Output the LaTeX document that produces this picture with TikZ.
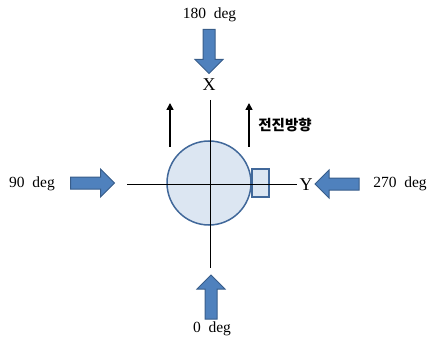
\documentclass[tikz,border=0pt]{standalone}
\usepackage{fontspec}
\setmainfont{Liberation Serif}
\newfontfamily\kor{Noto Sans CJK KR}
\usetikzlibrary{arrows.meta,positioning,shapes.arrows}
\definecolor{arrowblue}{HTML}{4F81BD}
\definecolor{arrowedge}{HTML}{385D8A}
\definecolor{bodyfill}{HTML}{DCE6F2}
\definecolor{bodyedge}{HTML}{41689A}

\begin{document}
\begin{tikzpicture}[x=1pt,y=-1pt,
bigarrow/.style={single arrow,fill=arrowblue,draw=arrowedge,line width=1pt,
  inner sep=5.5pt,minimum width=28pt,minimum height=44pt,single arrow head extend=8pt},
lbl/.style={font=\fontsize{15.5}{17}\selectfont,inner sep=0pt},
axlbl/.style={font=\fontsize{18}{20}\selectfont,inner sep=0pt},
axis/.style={line width=0.8pt},
move/.style={line width=1.6pt,-{Triangle[length=7pt,width=7pt]}}]
\useasboundingbox (0,0) rectangle (429,345);
% body
\node[draw=bodyedge,fill=bodyfill,line width=1.5pt,minimum width=17pt,minimum height=28pt,inner sep=0pt] (S) at (260.5,183) {};
\node[circle,draw=bodyedge,fill=bodyfill,line width=1.5pt,minimum size=84pt,inner sep=0pt] (C) at (209,183) {};
% axes
\node[axlbl] (X) at (209,85) {X};
\node[axlbl] (Y) at (306,185) {Y};
\coordinate (xt) at (210,100);
\coordinate (xb) at (210,268);
\coordinate (yl) at (127,184);
\coordinate (yr) at (297,184);
\draw[axis] (xt)--(xb);
\draw[axis] (yl)--(yr);
% direction of motion
\coordinate (m1) at (170,147);
\coordinate (m1t) at (170,103);
\coordinate (m2) at (249,147);
\coordinate (m2t) at (249,103);
\draw[move] (m1)--(m1t);
\draw[move] (m2)--(m2t);
\node[font=\kor\bfseries\fontsize{14.5}{16}\selectfont,inner sep=0pt] (D) at (285,125) {전진방향};
% wind directions
\node[bigarrow,rotate=-90] (A180) at (209,48.5) {};
\node[bigarrow] (A90) at (89.5,183) {};
\node[bigarrow,rotate=180] (A270) at (340,184) {};
\node[bigarrow,rotate=90] (A0) at (211,300) {};
\node[lbl] (T180) at (209.5,15) {180\ \ deg};
\node[lbl] (T90) at (32,184) {90\ \ deg};
\node[lbl] (T270) at (400,184) {270\ \ deg};
\node[lbl] (T0) at (212,329) {0\ \ deg};
\end{tikzpicture}
\end{document}
